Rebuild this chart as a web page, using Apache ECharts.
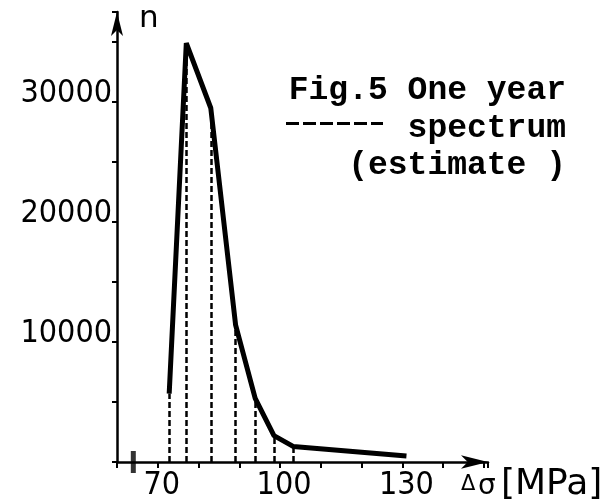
<!DOCTYPE html>
<html>
<head>
<meta charset="utf-8">
<script src="https://cdn.jsdelivr.net/npm/echarts@6/dist/echarts.min.js"></script>
<style>
  html, body { margin: 0; background: #fff; }
  #chart { width: 614px; height: 504px; }
</style>
</head>
<body>
<div id="chart"></div>
<script>
// stress range (MPa) vs number of cycles
const stress = [72.8, 77.0, 83.0, 89.1, 93.9, 98.5, 103.2, 131];
const cycles = [5700, 34900, 29500, 11400, 5300, 2200, 1300, 500];
// vertices that get a dashed drop line down to the axis
const dropIdx = [0, 1, 2, 3, 4, 5, 6];
const xLabels = [70, 100, 130];
const yLabels = [10000, 20000, 30000];
const breakMark = [64];
const captionLines = ['Fig.5 One year', 'spectrum', '(estimate )'];

const numFont = '"DejaVu Sans Condensed", "Liberation Sans Narrow", sans-serif';
const monoFont = '"Liberation Mono", "DejaVu Sans Mono", monospace';

let chart = echarts.init(document.getElementById('chart'));

let linePts = stress.map((x, i) => [x, cycles[i]]);
let drops = dropIdx.map(i => [
  { coord: [stress[i], 0] },
  { coord: [stress[i], cycles[i]] }
]);

chart.setOption({
  animation: false,
  backgroundColor: '#fff',
  grid: { left: 117, right: 126, top: 12, bottom: 42 },
  xAxis: {
    type: 'value',
    min: 60,
    max: 151,
    interval: 10,
    axisLine: {
      lineStyle: { color: '#000', width: 2.5 },
      symbol: ['none', 'arrow'],
      symbolSize: [10, 27]
    },
    axisTick: { length: 6, lineStyle: { color: '#000', width: 2 } },
    axisLabel: {
      color: '#000',
      fontFamily: numFont,
      fontSize: 32,
      margin: 8,
      padding: [0, 0, 0, 8],
      formatter: v => xLabels.indexOf(v) >= 0 ? String(v) : ''
    },
    splitLine: { show: false }
  },
  yAxis: {
    type: 'value',
    min: 0,
    max: 37500,
    interval: 5000,
    axisLine: {
      lineStyle: { color: '#000', width: 2.5 },
      symbol: ['none', 'arrow'],
      symbolSize: [9, 24]
    },
    axisTick: { length: 5, lineStyle: { color: '#000', width: 2 } },
    axisLabel: {
      color: '#000',
      fontFamily: numFont,
      fontSize: 32,
      margin: 5,
      verticalAlign: 'bottom',
      lineHeight: 16,
      formatter: v => yLabels.indexOf(v) >= 0 ? String(v) : ''
    },
    splitLine: { show: false }
  },
  graphic: [
    { type: 'text', x: 139, y: 19, style: { text: 'n', font: '31px "DejaVu Sans"', fill: '#000', verticalAlign: 'middle' } },
    { type: 'text', x: 566, y: 91, style: { text: captionLines[0], font: 'bold 33px ' + monoFont, fill: '#000', align: 'right', verticalAlign: 'middle' } },
    { type: 'text', x: 566, y: 129, style: { text: captionLines[1], font: 'bold 33px ' + monoFont, fill: '#000', align: 'right', verticalAlign: 'middle' } },
    { type: 'text', x: 566, y: 166, style: { text: captionLines[2], font: 'bold 33px ' + monoFont, fill: '#000', align: 'right', verticalAlign: 'middle' } },
    { type: 'line', shape: { x1: 286, y1: 123.5, x2: 383, y2: 123.5 }, style: { stroke: '#000', lineWidth: 3, lineDash: [13, 4] } },
    { type: 'text', x: 461, y: 485, style: { text: 'Δ', font: '21px "DejaVu Sans"', fill: '#000', verticalAlign: 'middle' } },
    { type: 'text', x: 478, y: 487, style: { text: 'σ', font: '28px "DejaVu Sans"', fill: '#000', verticalAlign: 'middle' } },
    { type: 'text', x: 501, y: 485, style: { text: '[MPa]', font: '36px "DejaVu Sans"', fill: '#000', verticalAlign: 'middle' } }
  ],
  series: [
    {
      type: 'line',
      data: linePts,
      symbol: 'none',
      lineStyle: { color: '#000', width: 5 },
      z: 3,
      markLine: {
        silent: true,
        symbol: 'none',
        label: { show: false },
        lineStyle: { color: '#000', width: 2.5, type: [6, 3] },
        data: drops
      }
    },
    {
      type: 'scatter',
      data: breakMark.map(x => [x, 0]),
      symbol: 'rect',
      symbolSize: [5, 22],
      itemStyle: { color: '#000' },
      silent: true
    }
  ]
});
</script>
</body>
</html>
